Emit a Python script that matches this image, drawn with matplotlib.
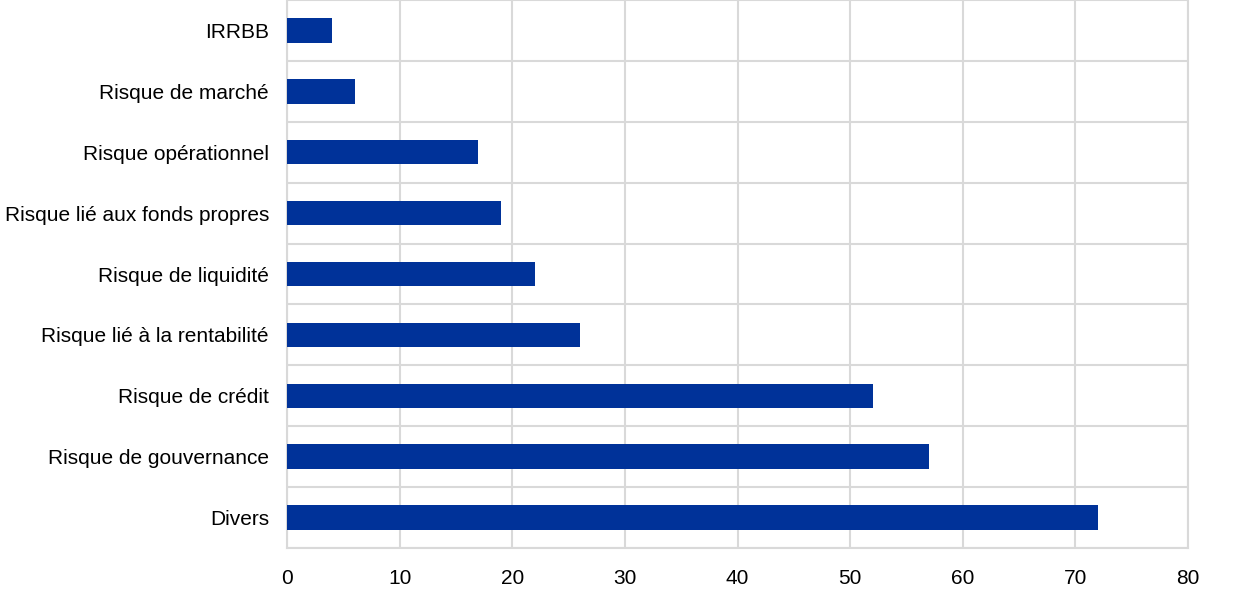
import matplotlib
matplotlib.use("Agg")
import matplotlib.pyplot as plt
import numpy as np

categories = ["Divers", "Risque de gouvernance", "Risque de crédit",
              "Risque lié à la rentabilité", "Risque de liquidité",
              "Risque lié aux fonds propres", "Risque opérationnel",
              "Risque de marché", "IRRBB"]
values = [72, 57, 52, 26, 22, 19, 17, 6, 4]
xticks = [0, 10, 20, 30, 40, 50, 60, 70, 80]

plt.rcParams['font.family'] = ['Liberation Sans', 'DejaVu Sans']

fig = plt.figure(figsize=(12.4, 5.9), dpi=100)
ax = fig.add_axes([287/1240, 1-548/590, (1188-287)/1240, 548/590])

y = np.arange(len(categories))
ax.barh(y, values, height=0.4, color="#003299", zorder=3)

ax.set_xlim(0, 80)
ax.set_ylim(-0.5, len(categories) - 0.5)
ax.set_xticks(xticks)
ax.set_xticklabels([str(t) for t in xticks], fontsize=15)
ax.set_yticks(y)
ax.set_yticklabels(categories, fontsize=15)
ax.set_yticks(np.arange(len(categories) + 1) - 0.5, minor=True)

ax.grid(axis='x', which='major', color='#d9d9d9', linewidth=1.5, zorder=0)
ax.grid(axis='y', which='minor', color='#d9d9d9', linewidth=1.5, zorder=0)
ax.tick_params(axis='both', which='both', length=0)
ax.tick_params(axis='x', pad=15)
ax.tick_params(axis='y', pad=13)

for side in ['left', 'right', 'bottom', 'top']:
    ax.spines[side].set_color('#d9d9d9')
    ax.spines[side].set_linewidth(1.5)
ax.spines['top'].set_visible(False)

fig.savefig("out.png", dpi=100)
